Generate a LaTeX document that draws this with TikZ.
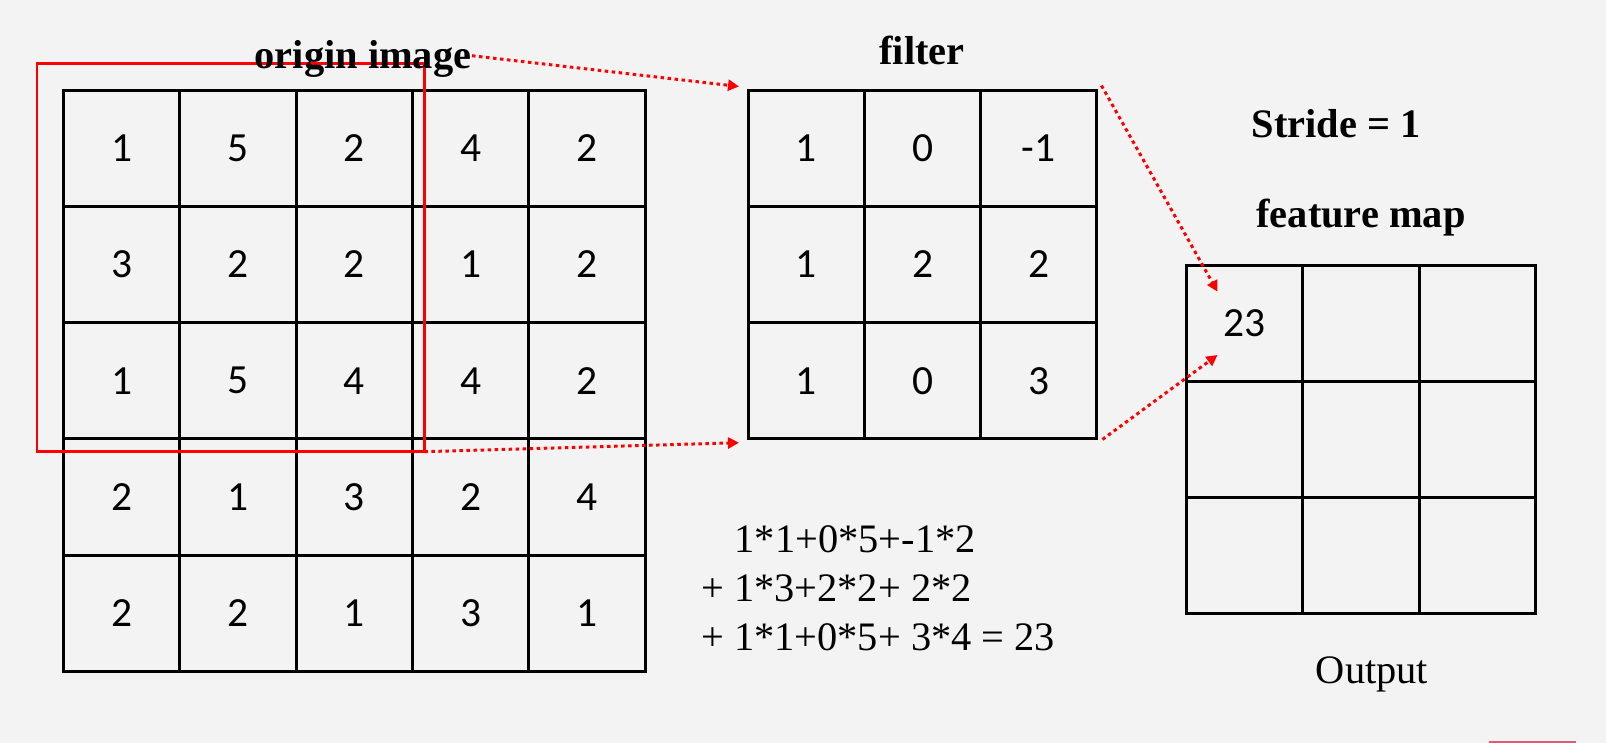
\documentclass[tikz,border=0pt]{standalone}
\usepackage{fontspec}
\setmainfont{Liberation Serif}
\newfontfamily\numfont{Carlito}
\usetikzlibrary{arrows.meta}
\definecolor{bggray}{RGB}{243,243,243}
\definecolor{tagred}{RGB}{222,92,112}

\begin{document}
\begin{tikzpicture}[
  cell/.style={draw,line width=0.85pt,minimum size=1.163cm,inner sep=0pt,font=\numfont\fontsize{11.8}{14}\selectfont},
  ttl/.style={anchor=base,inner sep=0pt,font=\bfseries\fontsize{11.5}{14}\selectfont},
  txt/.style={anchor=base west,inner sep=0pt,font=\fontsize{11.5}{14}\selectfont},
  dotarrow/.style={red,line width=0.85pt,dash pattern=on 1pt off 1pt,-{Triangle[length=0.11cm,width=0.11cm]}}
]
\fill[bggray] (0.000,0.000) rectangle (16.060,-7.430);
\useasboundingbox (0.000,0.000) rectangle (16.060,-7.430);
\fill[tagred] (14.890,-7.410) rectangle (15.760,-7.430);
% origin image
\node[cell] (o11) at (1.217,-1.482) {1};
\node[cell] (o12) at (2.380,-1.482) {5};
\node[cell] (o13) at (3.543,-1.482) {2};
\node[cell] (o14) at (4.706,-1.482) {4};
\node[cell] (o15) at (5.869,-1.482) {2};
\node[cell] (o21) at (1.217,-2.645) {3};
\node[cell] (o22) at (2.380,-2.645) {2};
\node[cell] (o23) at (3.543,-2.645) {2};
\node[cell] (o24) at (4.706,-2.645) {1};
\node[cell] (o25) at (5.869,-2.645) {2};
\node[cell] (o31) at (1.217,-3.808) {1};
\node[cell] (o32) at (2.380,-3.808) {5};
\node[cell] (o33) at (3.543,-3.808) {4};
\node[cell] (o34) at (4.706,-3.808) {4};
\node[cell] (o35) at (5.869,-3.808) {2};
\node[cell] (o41) at (1.217,-4.971) {2};
\node[cell] (o42) at (2.380,-4.971) {1};
\node[cell] (o43) at (3.543,-4.971) {3};
\node[cell] (o44) at (4.706,-4.971) {2};
\node[cell] (o45) at (5.869,-4.971) {4};
\node[cell] (o51) at (1.217,-6.134) {2};
\node[cell] (o52) at (2.380,-6.134) {2};
\node[cell] (o53) at (3.543,-6.134) {1};
\node[cell] (o54) at (4.706,-6.134) {3};
\node[cell] (o55) at (5.869,-6.134) {1};
\draw[red,line width=0.85pt] (0.370,-0.640) rectangle (4.243,-4.517);
\coordinate (winbr) at (4.243,-4.517);
\node[ttl] (origttl) at (3.630,-0.683) {origin image};
% filter
\node[cell] (f11) at (8.062,-1.482) {1};
\node[cell] (f12) at (9.225,-1.482) {0};
\node[cell] (f13) at (10.388,-1.482) {-1};
\node[cell] (f21) at (8.062,-2.645) {1};
\node[cell] (f22) at (9.225,-2.645) {2};
\node[cell] (f23) at (10.388,-2.645) {2};
\node[cell] (f31) at (8.062,-3.808) {1};
\node[cell] (f32) at (9.225,-3.808) {0};
\node[cell] (f33) at (10.388,-3.808) {3};
\node[ttl] (filtttl) at (9.220,-0.650) {filter};
% feature map
\node[cell] (m11) at (12.447,-3.232) {23};
\node[cell] (m12) at (13.610,-3.232) {};
\node[cell] (m13) at (14.773,-3.232) {};
\node[cell] (m21) at (12.447,-4.395) {};
\node[cell] (m22) at (13.610,-4.395) {};
\node[cell] (m23) at (14.773,-4.395) {};
\node[cell] (m31) at (12.447,-5.558) {};
\node[cell] (m32) at (13.610,-5.558) {};
\node[cell] (m33) at (14.773,-5.558) {};
\node[ttl] (stride) at (13.360,-1.380) {Stride = 1};
\node[ttl] (featttl) at (13.610,-2.280) {feature map};
\node[anchor=base,inner sep=0pt,font=\fontsize{11.5}{14}\selectfont] (outlbl) at (13.720,-6.840) {Output};
% sum
\node[txt] (sum1) at (7.340,-5.523) {1*1+0*5+-1*2};
\node[txt] (sum2) at (7.005,-6.017) {+ 1*3+2*2+ 2*2};
\node[txt] (sum3) at (7.005,-6.507) {+ 1*1+0*5+ 3*4 = 23};
% arrows
\coordinate (ftip1) at (7.390,-0.865);
\coordinate (ftip2) at (7.390,-4.427);
\coordinate (mtip1) at (12.175,-2.917);
\coordinate (mtip2) at (12.175,-3.550);
\draw[dotarrow] ([yshift=0.03cm]origttl.east) -- (ftip1);
\draw[dotarrow] (winbr) -- (ftip2);
\draw[dotarrow] ([xshift=0.03cm,yshift=0.03cm]f13.north east) -- (mtip1);
\draw[dotarrow] ([xshift=0.04cm,yshift=0.01cm]f33.south east) -- (mtip2);
\end{tikzpicture}
\end{document}
